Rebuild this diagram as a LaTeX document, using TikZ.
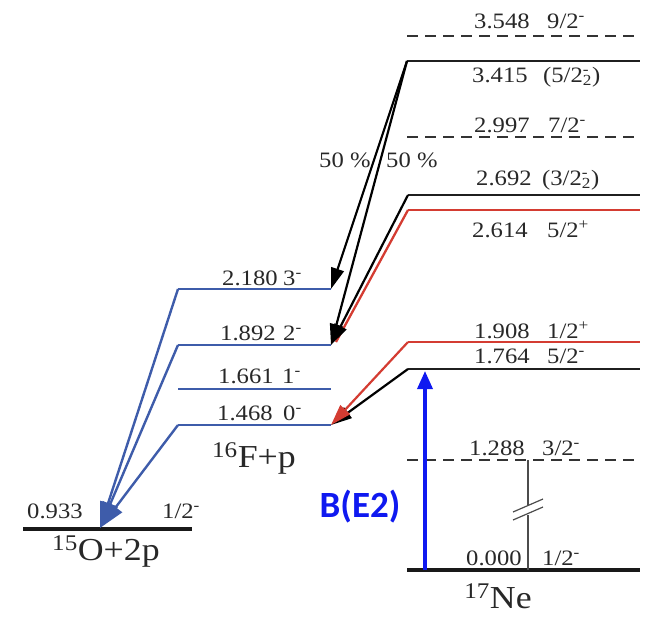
\documentclass[tikz,border=0pt]{standalone}
\usepackage{fontspec}
\setmainfont{Liberation Serif}[FakeStretch=1.12]
\newfontfamily\fuentebe{Carlito}
\usepackage{tikz}
\usetikzlibrary{
    positioning,
    arrows.meta
}
\definecolor{azulnivel}{RGB}{62,92,170}
\definecolor{rojonivel}{RGB}{212,60,50}
\definecolor{azulbe}{RGB}{15,25,240}
\definecolor{texto}{RGB}{40,40,40}
\tikzset{
    >=Stealth,
    nivel/.style={line width=2.6pt, draw=black!88},
    nivelrojo/.style={line width=2.3pt, draw=rojonivel},
    nivelazul/.style={line width=2.3pt, draw=azulnivel},
    nivelpunt/.style={line width=2.3pt, draw=black!80, dash pattern=on 11pt off 7pt},
    base/.style={line width=3.6pt, draw=black!90},
    num/.style={font=\fontsize{22}{24}\selectfont, text=texto, inner sep=0pt},
    nucleo/.style={font=\fontsize{32}{34}\selectfont, text=texto, inner sep=0pt},
    flecha/.style={line width=2.2pt, -{Triangle[length=21pt,width=13pt]}},
    flechaazul/.style={line width=2.4pt, draw=azulnivel, -{Triangle[length=26pt,width=16pt]}}
}

\begin{document}
\begin{tikzpicture}[
    x=1pt,
    y=-1pt
]
    \useasboundingbox (0,0) rectangle (656,616);

    % Niveles de 17Ne
    \coordinate (n3548i) at (407,36);   \coordinate (n3548d) at (640,36);
    \coordinate (n3415i) at (407,61);   \coordinate (n3415d) at (640,61);
    \coordinate (n2997i) at (407,137);  \coordinate (n2997d) at (640,137);
    \coordinate (n2692i) at (408,195);  \coordinate (n2692d) at (640,195);
    \coordinate (n2614i) at (408,210);  \coordinate (n2614d) at (640,210);
    \coordinate (n1908i) at (408,342);  \coordinate (n1908d) at (640,342);
    \coordinate (n1764i) at (408,369);  \coordinate (n1764d) at (640,369);
    \coordinate (n1288i) at (407,460);  \coordinate (n1288d) at (640,460);
    \coordinate (n0000i) at (407,570);  \coordinate (n0000d) at (640,570);

    % Niveles de 16F+p
    \coordinate (f2180i) at (178,289);  \coordinate (f2180d) at (331,289);
    \coordinate (f1892i) at (178,345);  \coordinate (f1892d) at (331,345);
    \coordinate (f1661i) at (178,389);  \coordinate (f1661d) at (331,389);
    \coordinate (f1468i) at (178,425);  \coordinate (f1468d) at (331,425);

    % Nivel de 15O+2p
    \coordinate (o0933i) at (23,529);   \coordinate (o0933d) at (192,529);
    \coordinate (o0933c) at (100,528);

    \draw[nivelpunt] (n3548i) -- (n3548d);
    \draw[nivel]     (n3415i) -- (n3415d);
    \draw[nivelpunt] (n2997i) -- (n2997d);
    \draw[nivel]     (n2692i) -- (n2692d);
    \draw[nivelrojo] (n2614i) -- (n2614d);
    \draw[nivelrojo] (n1908i) -- (n1908d);
    \draw[nivel]     (n1764i) -- (n1764d);
    \draw[nivelpunt] (n1288i) -- (n1288d);
    \draw[base]      (n0000i) -- (n0000d);

    \draw[nivelazul] (f2180i) -- (f2180d);
    \draw[nivelazul] (f1892i) -- (f1892d);
    \draw[nivelazul] (f1661i) -- (f1661d);
    \draw[nivelazul] (f1468i) -- (f1468d);

    \draw[base] (o0933i) -- (o0933d);

    % Desintegraciones hacia 16F+p
    \draw[flecha] (n3415i) -- (f2180d);
    \draw[flecha] (n3415i) -- (f1892d);
    \draw[nivelrojo] (n2614i) -- ([shift={(5,-3)}]f1892d);
    \draw[flecha] (n2692i) -- (f1892d);
    \draw[flecha] (n1764i) -- (f1468d);
    \draw[flecha, draw=rojonivel, fill=rojonivel] (n1908i) -- (f1468d);

    % Desintegraciones hacia 15O+2p
    \draw[flechaazul] (f2180i) -- (o0933c);
    \draw[flechaazul] (f1892i) -- (o0933c);
    \draw[flechaazul] (f1468i) -- (o0933c);

    % B(E2)
    \coordinate (be0) at (425,570);
    \coordinate (be1) at (425,371);
    \draw[line width=3.5pt, draw=azulbe, -{Triangle[length=18pt,width=15pt]}] (be0) -- (be1);
    \node[font=\fuentebe\bfseries\fontsize{37}{40}\selectfont, text=azulbe, inner sep=0pt, anchor=base]
        (lbe) at (360,517) {B(E2)};

    % Corte entre 1.288 y 0.000
    \coordinate (c0) at (528,460);
    \coordinate (c1) at (528,505);
    \coordinate (c2) at (528,515);
    \coordinate (c3) at (528,570);
    \coordinate (s1a) at (513,512);  \coordinate (s1b) at (543,499);
    \coordinate (s2a) at (513,520);  \coordinate (s2b) at (543,507);
    \draw[line width=1.2pt, black!70] (c0) -- (c1);
    \draw[line width=1.2pt, black!70] (c2) -- (c3);
    \draw[line width=1.2pt, black!70] (s1a) -- (s1b);
    \draw[line width=1.2pt, black!70] (s2a) -- (s2b);

    % Etiquetas de 17Ne
    \node[num, anchor=base west] (e3548) at (474,28)  {3.548};
    \node[num, anchor=base west] (j3548) at (547,28)  {9/2\textsuperscript{-}};
    \node[num, anchor=base west] (e3415) at (472,82)  {3.415};
    \node[num, anchor=base west] (j3415) at (543,82)  {(5/2\rlap{\textsuperscript{-}}\textsubscript{2})};
    \node[num, anchor=base west] (e2997) at (474,132) {2.997};
    \node[num, anchor=base west] (j2997) at (548,132) {7/2\textsuperscript{-}};
    \node[num, anchor=base west] (e2692) at (476,185) {2.692};
    \node[num, anchor=base west] (j2692) at (542,185) {(3/2\rlap{\textsuperscript{-}}\textsubscript{2})};
    \node[num, anchor=base west] (e2614) at (472,237) {2.614};
    \node[num, anchor=base west] (j2614) at (547,237) {5/2\textsuperscript{+}};
    \node[num, anchor=base west] (e1908) at (474,338) {1.908};
    \node[num, anchor=base west] (j1908) at (547,338) {1/2\textsuperscript{+}};
    \node[num, anchor=base west] (e1764) at (474,363) {1.764};
    \node[num, anchor=base west] (j1764) at (547,363) {5/2\textsuperscript{-}};
    \node[num, anchor=base west] (e1288) at (469,455) {1.288};
    \node[num, anchor=base west] (j1288) at (542,455) {3/2\textsuperscript{-}};
    \node[num, anchor=base west] (e0000) at (466,565) {0.000};
    \node[num, anchor=base west] (j0000) at (542,565) {1/2\textsuperscript{-}};

    % Etiquetas de 16F+p
    \node[num, anchor=base west] (e2180) at (222,285) {2.180};
    \node[num, anchor=base west] (j2180) at (283,285) {3\textsuperscript{-}};
    \node[num, anchor=base west] (e1892) at (220,340) {1.892};
    \node[num, anchor=base west] (j1892) at (283,340) {2\textsuperscript{-}};
    \node[num, anchor=base west] (e1661) at (218,383) {1.661};
    \node[num, anchor=base west] (j1661) at (282,383) {1\textsuperscript{-}};
    \node[num, anchor=base west] (e1468) at (217,420) {1.468};
    \node[num, anchor=base west] (j1468) at (283,420) {0\textsuperscript{-}};

    % Etiquetas de 15O+2p
    \node[num, anchor=base west] (e0933) at (27,518)  {0.933};
    \node[num, anchor=base west] (j0933) at (162,518) {1/2\textsuperscript{-}};

    % Porcentajes
    \node[num, anchor=base west] (p1) at (319,167) {50 \%};
    \node[num, anchor=base west] (p2) at (386,167) {50 \%};

    % Nucleos
    \node[nucleo, anchor=base] (lf) at (254,467) {\textsuperscript{16}F+p};
    \node[nucleo, anchor=base] (lo) at (106,560) {\textsuperscript{15}O+2p};
    \node[nucleo, anchor=base] (ln) at (498,608) {\textsuperscript{17}Ne};

\end{tikzpicture}
\end{document}
